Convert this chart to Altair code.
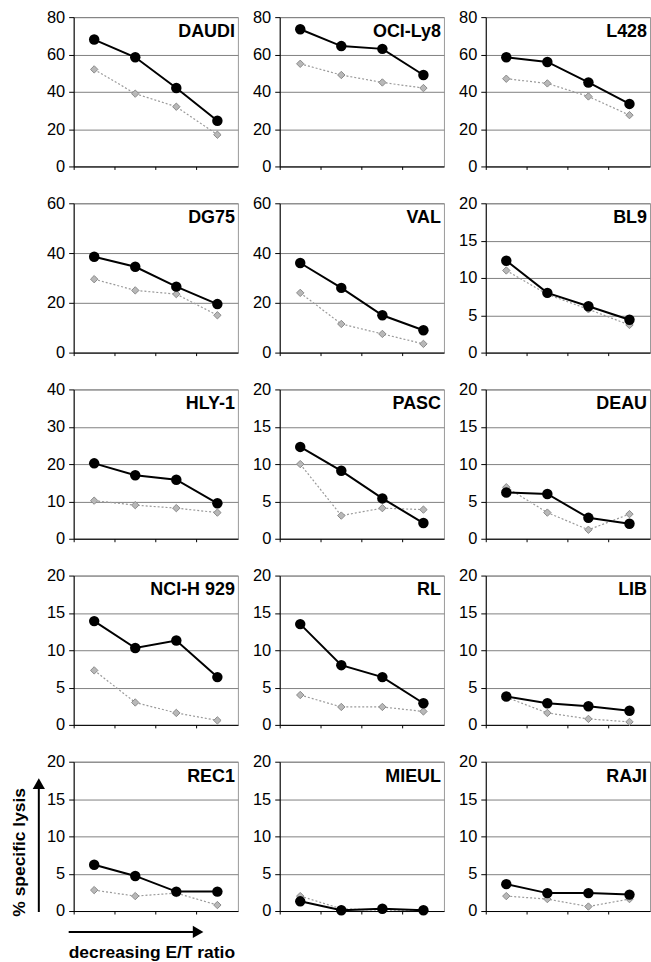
import altair as alt
import pandas as pd

# ---- data ----
cells = ["DAUDI", "OCI-Ly8", "L428",
         "DG75", "VAL", "BL9",
         "HLY-1", "PASC", "DEAU",
         "NCI-H 929", "RL", "LIB",
         "REC1", "MIEUL", "RAJI"]
y_max = [80, 80, 80, 60, 60, 20, 40, 20, 20, 20, 20, 20, 20, 20, 20]
y_step = [20, 20, 20, 20, 20, 5, 10, 5, 5, 5, 5, 5, 5, 5, 5]
ratios = ["E/T 1", "E/T 2", "E/T 3", "E/T 4"]

black_vals = [
    [68, 58.5, 42, 24.5],
    [73.5, 64.5, 63, 49],
    [58.5, 56, 45, 33.5],
    [38.5, 34.5, 26.5, 19.5],
    [36, 26, 15, 9],
    [12.3, 8, 6.2, 4.4],
    [20.2, 17, 15.8, 9.5],
    [12.3, 9.1, 5.4, 2.1],
    [6.2, 6.0, 2.8, 2.0],
    [13.9, 10.3, 11.3, 6.4],
    [13.5, 8.0, 6.4, 2.9],
    [3.8, 2.9, 2.5, 1.9],
    [6.2, 4.7, 2.6, 2.6],
    [1.3, 0.1, 0.3, 0.1],
    [3.6, 2.4, 2.4, 2.2],
]
gray_vals = [
    [52, 39, 32, 17],
    [55, 49, 45, 42],
    [47, 44.5, 37.5, 27.5],
    [29.5, 25, 23.5, 15],
    [24, 11.5, 7.5, 3.5],
    [11, 7.8, 5.8, 3.7],
    [10.2, 9, 8.2, 7],
    [10, 3.1, 4.1, 3.9],
    [6.9, 3.5, 1.2, 3.3],
    [7.3, 3.0, 1.6, 0.6],
    [4.0, 2.4, 2.4, 1.8],
    [3.7, 1.6, 0.8, 0.4],
    [2.8, 2.0, 2.4, 0.8],
    [2.0, 0.3, 0.1, 0.1],
    [2.0, 1.6, 0.6, 1.6],
]

y_title = "% specific lysis"
x_title = "decreasing E/T ratio"

rows = []
for c, bv, gv in zip(cells, black_vals, gray_vals):
    for r, b, g in zip(ratios, bv, gv):
        rows.append({"cell": c, "ratio": r, "series": "treated", "value": b})
        rows.append({"cell": c, "ratio": r, "series": "control", "value": g})
df = pd.DataFrame(rows)

FONT = "Liberation Sans"
W, H = 165, 150


def panel(i):
    name = cells[i]
    sub = df[df["cell"] == name]
    ticks = list(range(0, y_max[i] + 1, y_step[i]))
    x = alt.X("ratio:N", sort=ratios,
              scale=alt.Scale(type="band", domain=ratios, paddingInner=0, paddingOuter=0),
              axis=alt.Axis(labels=False, title=None, bandPosition=0, tickSize=3,
                            domainColor="black", tickColor="black", grid=False))
    y = alt.Y("value:Q",
              scale=alt.Scale(domain=[0, y_max[i]], nice=False, zero=True),
              axis=alt.Axis(values=ticks, title=None, grid=True, gridColor="#808080",
                            domainColor="black", tickColor="black", tickSize=5,
                            labelPadding=4, labelFontSize=16.5, labelFont=FONT,
                            labelColor="black"))
    base = alt.Chart(sub).encode(x=x, y=y)
    g = base.transform_filter(alt.datum.series == "control")
    b = base.transform_filter(alt.datum.series == "treated")
    gl = g.mark_line(color="#9a9a9a", strokeWidth=1.2, strokeDash=[2, 2])
    gp = g.mark_point(shape="diamond", filled=True, fill="#b8b8b8", stroke="#8a8a8a",
                      strokeWidth=1, size=55, opacity=1)
    bl = b.mark_line(color="black", strokeWidth=2)
    bp = b.mark_circle(size=110, color="black", opacity=1)
    title = alt.Chart(pd.DataFrame({"t": [name]})).mark_text(
        align="right", baseline="alphabetic", font=FONT, fontSize=18,
        fontWeight="bold", color="black").encode(
        x=alt.value(W - 3), y=alt.value(20), text="t:N")
    layers = [gl, gp, bl, bp, title]
    if name == "REC1":
        one = pd.DataFrame({"a": [0]})
        ytxt = alt.Chart(pd.DataFrame({"t": [y_title]})).mark_text(
            angle=270, align="center", baseline="middle", font=FONT, fontSize=17.5,
            fontWeight="bold", color="black").encode(
            x=alt.value(-54), y=alt.value(91), text="t:N")
        vline = alt.Chart(one).mark_rule(color="black", strokeWidth=2).encode(
            x=alt.value(-35), y=alt.value(151), y2=alt.value(27))
        vhead = alt.Chart(one).mark_point(shape="triangle-up", filled=True, color="black",
                                          size=150, opacity=1).encode(
            x=alt.value(-35), y=alt.value(22))
        hline = alt.Chart(one).mark_rule(color="black", strokeWidth=2).encode(
            x=alt.value(-5), x2=alt.value(120), y=alt.value(171))
        hhead = alt.Chart(one).mark_point(shape="triangle-right", filled=True, color="black",
                                          size=150, opacity=1).encode(
            x=alt.value(125), y=alt.value(171))
        xtxt = alt.Chart(pd.DataFrame({"t": [x_title]})).mark_text(
            align="left", baseline="alphabetic", font=FONT, fontSize=17.5,
            fontWeight="bold", color="black").encode(
            x=alt.value(-5), y=alt.value(197), text="t:N")
        layers += [ytxt, vline, vhead, hline, hhead, xtxt]
    return alt.layer(*layers).properties(width=W, height=H)


chart = alt.concat(*[panel(i) for i in range(len(cells))], columns=3,
                   spacing={"row": 37, "column": 42}, bounds="flush").properties(
    padding={"left": 10, "top": 6, "right": 0, "bottom": 0},
    background="white",
).configure_view(stroke="#999999", strokeWidth=1)

chart.save("out.html", embed_options={"renderer": "svg", "actions": False})
